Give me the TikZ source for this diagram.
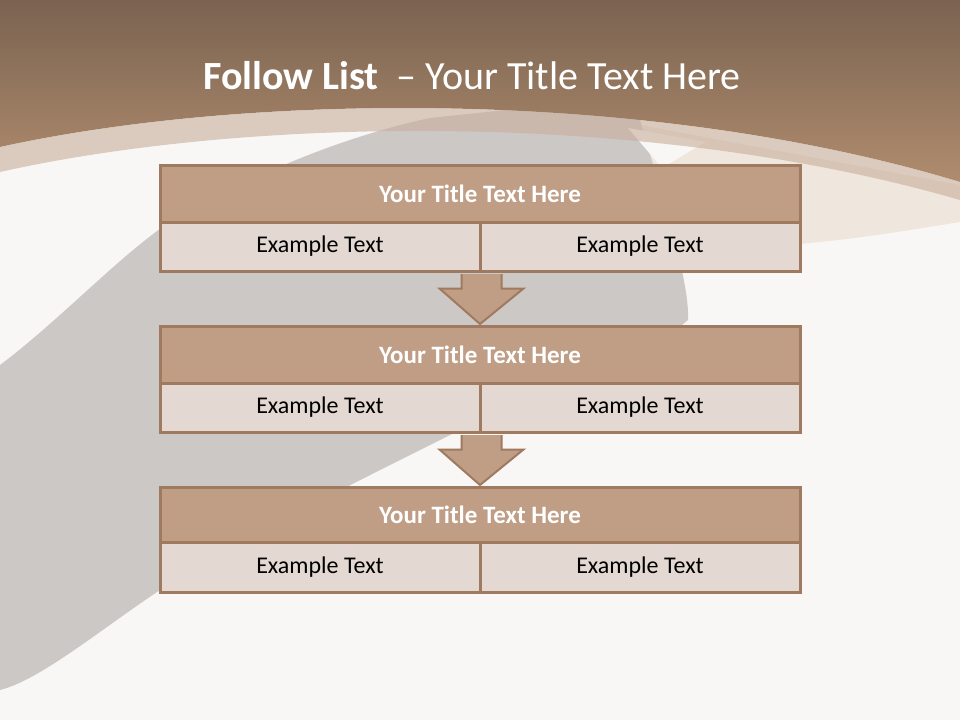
\documentclass[tikz,border=0pt]{standalone}
\usepackage{fontspec}
\setmainfont{Carlito}
\usetikzlibrary{calc}
\definecolor{bgwhite}{HTML}{F9F7F6}
\definecolor{blobgray}{HTML}{CCC8C6}
\definecolor{beige}{HTML}{EFE6DE}
\definecolor{browntop}{HTML}{7A6350}
\definecolor{brownbot}{HTML}{B08C6E}
\definecolor{bandtan}{HTML}{C8AE9A}
\definecolor{edge}{HTML}{A07A5E}
\definecolor{titlefill}{HTML}{BF9E85}
\definecolor{cellfill}{HTML}{E4D9D2}
\tikzset{
  titlebox/.style={draw=edge, line width=3pt, fill=titlefill, minimum width=640pt, minimum height=57pt, inner sep=0pt, text=white, font=\fontsize{25}{29}\selectfont\bfseries},
  cellbox/.style={draw=edge, line width=3pt, fill=cellfill, minimum width=320pt, minimum height=49pt, inner sep=0pt, text=black, font=\fontsize{24}{28}\selectfont},
  blockarrow/.style={draw=edge, line width=2pt, fill=titlefill, line join=miter}
}
\begin{document}
\begin{tikzpicture}[x=1pt,y=-1pt]
\useasboundingbox (0,0) rectangle (960,720);
\fill[bgwhite] (0,0) rectangle (960,720);
% beige region on right
\fill[beige] (640,125) -- (960,185) -- (960,222) .. controls (880,235) and (820,245) .. (720,249) -- (660,250) -- cycle;
% gray brush stroke
\fill[blobgray] (0,365) .. controls (60,320) and (120,255) .. (170,222)
  .. controls (260,170) and (350,135) .. (430,118)
  -- (600,100) -- (640,120) .. controls (660,190) and (690,280) .. (688,320)
  -- (670,335) .. controls (600,365) and (520,400) .. (440,440)
  .. controls (340,490) and (220,550) .. (160,590)
  .. controls (100,630) and (40,680) .. (0,690) -- cycle;
% pale wedge near top
\fill[bgwhite] (628,128) -- (705,142) -- (662,168) -- cycle;
% brown top band
\shade[top color=browntop, bottom color=brownbot] (0,0) -- (960,0) -- (960,182)
  .. controls (650,88) and (250,92) .. (0,147) -- cycle;
% translucent light band
\fill[bandtan, opacity=0.6] (0,147) .. controls (250,92) and (650,88) .. (960,182)
  -- (960,200) .. controls (650,110) and (250,116) .. (0,172) -- cycle;
% title
\node[text=white, font=\fontsize{40}{46}\selectfont] (title) at (472,76)
  {\textbf{Follow List}\ \ – Your Title Text Here};
% boxes
\node[titlebox] (t1) at (480,193.5) {Your Title Text Here};
\node[cellbox] (c1l) at (320,246.5) {\raisebox{-1.5pt}{Example Text}};
\node[cellbox] (c1r) at (640,246.5) {\raisebox{-1.5pt}{Example Text}};
\node[titlebox] (t2) at (480,354.5) {Your Title Text Here};
\node[cellbox] (c2l) at (320,407.5) {\raisebox{-1.5pt}{Example Text}};
\node[cellbox] (c2r) at (640,407.5) {\raisebox{-1.5pt}{Example Text}};
\node[titlebox, minimum height=55pt] (t3) at (480,514.5) {Your Title Text Here};
\node[cellbox, minimum height=50pt] (c3l) at (320,567) {Example Text};
\node[cellbox, minimum height=50pt] (c3r) at (640,567) {Example Text};
% block arrows
\draw[blockarrow] ($(c1l.south east)+(-20,1.5)$) -- ($(c1l.south east)+(-20,16)$)
  -- ($(c1l.south east)+(-42,16)$) -- ($(t2.north)+(0,-0.5)$)
  -- ($(c1l.south east)+(42,16)$) -- ($(c1l.south east)+(20,16)$)
  -- ($(c1l.south east)+(20,1.5)$);
\draw[blockarrow] ($(c2l.south east)+(-20,1.5)$) -- ($(c2l.south east)+(-20,16)$)
  -- ($(c2l.south east)+(-42,16)$) -- ($(t3.north)+(0,-0.5)$)
  -- ($(c2l.south east)+(42,16)$) -- ($(c2l.south east)+(20,16)$)
  -- ($(c2l.south east)+(20,1.5)$);
\end{tikzpicture}
\end{document}
